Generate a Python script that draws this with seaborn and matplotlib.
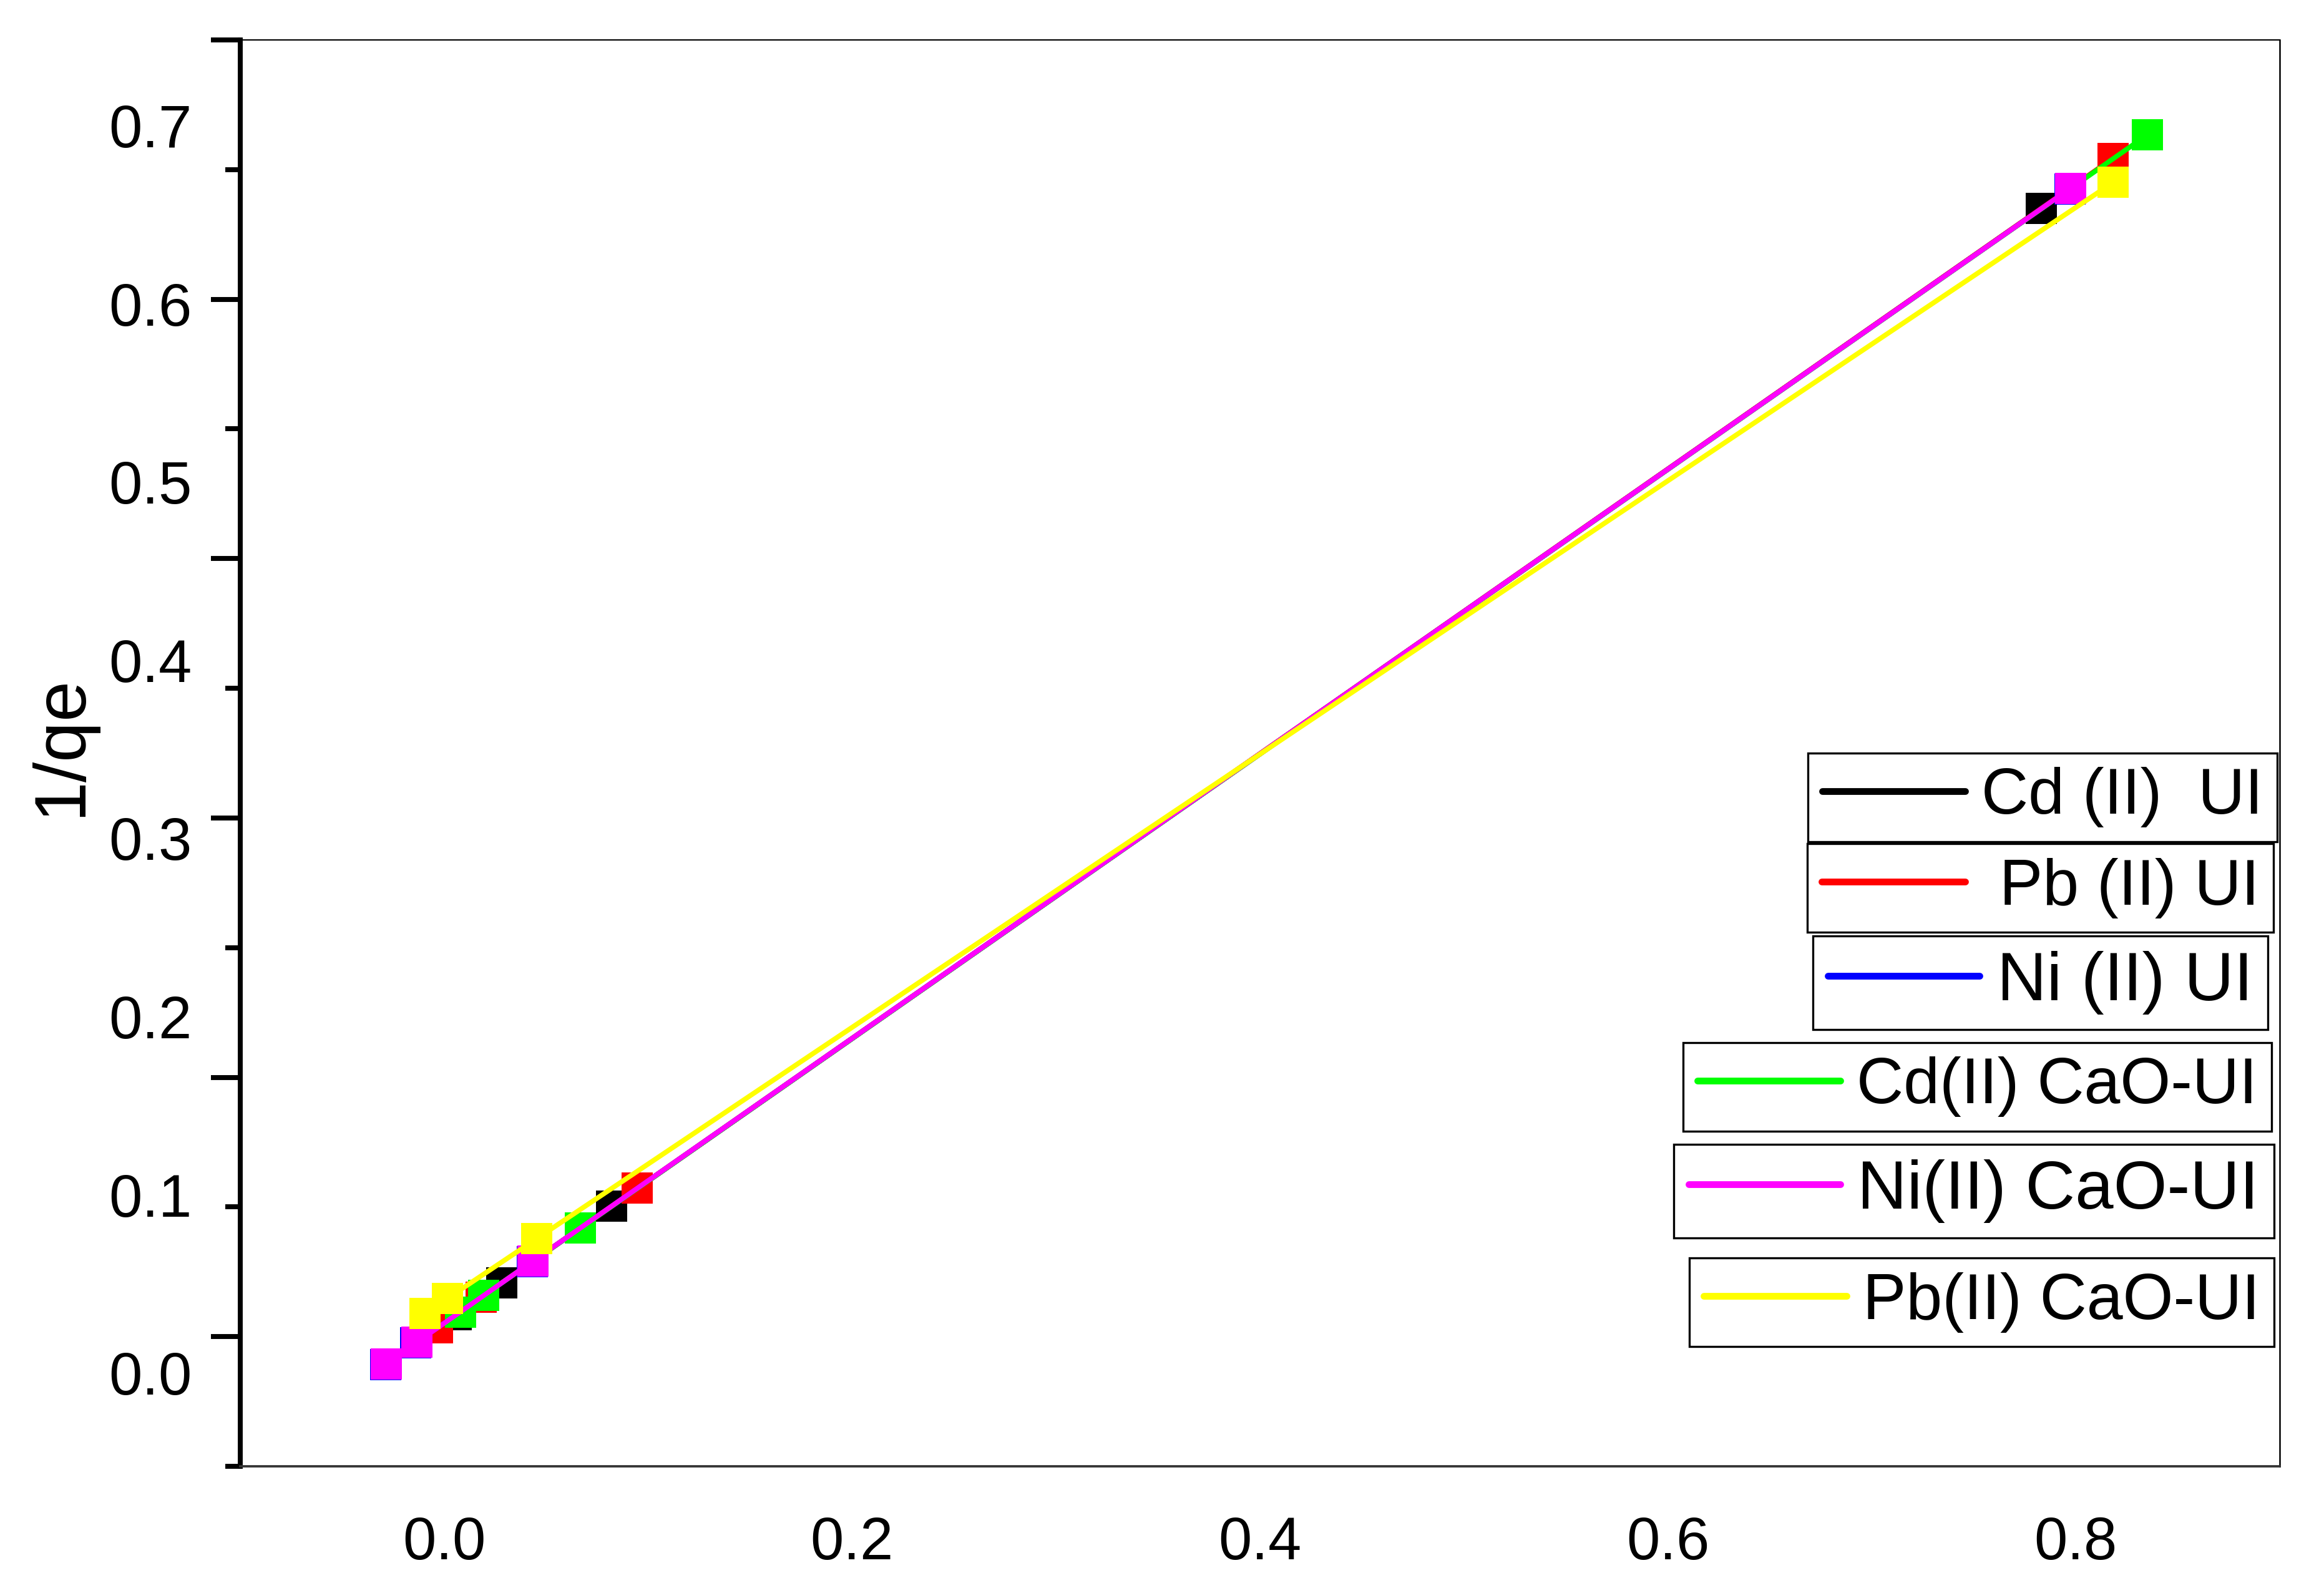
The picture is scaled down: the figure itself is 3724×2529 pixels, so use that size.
import numpy as np
import pandas as pd
import seaborn as sns
import matplotlib.pyplot as plt
from matplotlib.lines import Line2D

# values (1/Ce on x, 1/qe on y)
labels = ['Cd (II)  UI', ' Pb (II) UI', 'Ni (II) UI',
          'Cd(II) CaO-UI', 'Ni(II) CaO-UI', 'Pb(II) CaO-UI']
colors = ['#000000', '#ff0000', '#0000ff', '#00ff00', '#ff00ff', '#ffff00']

cd_ui_x = [0.0058, 0.0282, 0.0822, 0.7830]
cd_ui_y = [0.0326, 0.0504, 0.0934, 0.6533]
pb_ui_x = [-0.0034, 0.0181, 0.0947, 0.8183]
pb_ui_y = [0.0252, 0.0424, 0.1036, 0.6816]
ni_ui_x = [-0.0288, -0.0139, 0.0431, 0.7971]
ni_ui_y = [0.0047, 0.0168, 0.0623, 0.6644]
cd_cao_x = [0.0080, 0.0193, 0.0669, 0.8352]
cd_cao_y = [0.0340, 0.0434, 0.0812, 0.6948]
ni_cao_x = [-0.0284, -0.0134, 0.0434, 0.7974]
ni_cao_y = [0.0050, 0.0171, 0.0626, 0.6647]
pb_cao_x = [-0.0094, 0.0017, 0.0453, 0.8183]
pb_cao_y = [0.0334, 0.0418, 0.0752, 0.6680]

series_x = [cd_ui_x, pb_ui_x, ni_ui_x, cd_cao_x, ni_cao_x, pb_cao_x]
series_y = [cd_ui_y, pb_ui_y, ni_ui_y, cd_cao_y, ni_cao_y, pb_cao_y]

x_ticks = [0.0, 0.2, 0.4, 0.6, 0.8]
y_ticks = [0.0, 0.1, 0.2, 0.3, 0.4, 0.5, 0.6, 0.7]

sns.set_style('white')
plt.rcParams['font.family'] = ['Liberation Sans', 'DejaVu Sans']
plt.rcParams['text.color'] = 'black'
plt.rcParams['axes.labelcolor'] = 'black'
plt.rcParams['xtick.color'] = 'black'
plt.rcParams['ytick.color'] = 'black'

fig = plt.figure(figsize=(3724 / 300, 2529 / 300), dpi=300)
ax = fig.add_axes([385 / 3724, 1 - 2350 / 2529, (3653 - 385) / 3724, (2350 - 64) / 2529])

for xs, ys, c, lab in zip(series_x, series_y, colors, labels):
    df = pd.DataFrame({'x': xs, 'y': ys})
    sns.lineplot(data=df, x='x', y='y', ax=ax, color=c, sort=False,
                 marker='s', markersize=11.8, markeredgewidth=0,
                 linewidth=1.9, legend=False)
for ln in ax.lines:
    ln.set_linewidth(1.9)

y0, y1 = -0.0525, 0.748
ax.set_xlim(-0.1, 0.9)
ax.set_ylim(y0, y1)

# labelled ticks without marks
ax.set_xticks(x_ticks)
ax.set_xticklabels([f'{v:.1f}' for v in x_ticks])
ax.set_yticks(y_ticks)
ax.set_yticklabels([f'{v:.1f}' for v in y_ticks])
ax.tick_params(axis='x', length=0, pad=19, labelsize=23, labelcolor='black')
ax.tick_params(axis='y', which='major', length=0, pad=18.5, labelsize=23, labelcolor='black')

# the tick marks on the left spine (evenly spaced, not aligned with labels)
marks = np.linspace(y0, y1, 12)
ax.set_yticks(marks[0::2], minor=True)
ax.tick_params(axis='y', which='minor', left=True, length=5.8, width=1.9,
               direction='out', color='black')
sec = ax.secondary_yaxis('left')
sec.set_yticks(marks[1::2])
sec.tick_params(length=11.3, width=1.9, direction='out', labelleft=False, color='black')
sec.spines['left'].set_visible(False)

ax.set_xlabel('')
ax.set_ylabel('1/qe', fontsize=28, color='black')
ax.yaxis.set_label_coords(-0.071, 0.505)

ax.spines['left'].set_linewidth(1.9)
ax.spines['left'].set_color('black')
ax.spines['top'].set_linewidth(0.5)
ax.spines['top'].set_color('black')
ax.spines['right'].set_linewidth(0.6)
ax.spines['right'].set_color('black')
ax.spines['bottom'].set_linewidth(0.9)
ax.spines['bottom'].set_color('#333333')

# each legend entry sits in its own box
boxes = [(3649, 1278), (3643, 1423), (3634, 1575),
         (3640, 1742), (3644, 1909), (3644, 2087)]
sizes = [25, 25, 26.5, 25, 26.5, 25]
for (xr, yc), c, lab, fs in zip(boxes, colors, labels, sizes):
    h = Line2D([0], [0], color=c, lw=2.6, solid_capstyle='round')
    leg = fig.legend([h], [lab], loc='center right',
                     bbox_to_anchor=(xr / 3724, 1 - yc / 2529),
                     bbox_transform=fig.transFigure, fontsize=fs,
                     handlelength=2.2, handletextpad=0.25, borderpad=0.22,
                     borderaxespad=0, fancybox=False, framealpha=1,
                     edgecolor='black')
    leg.get_frame().set_linewidth(0.8)

plt.savefig('out.png', dpi=300)
